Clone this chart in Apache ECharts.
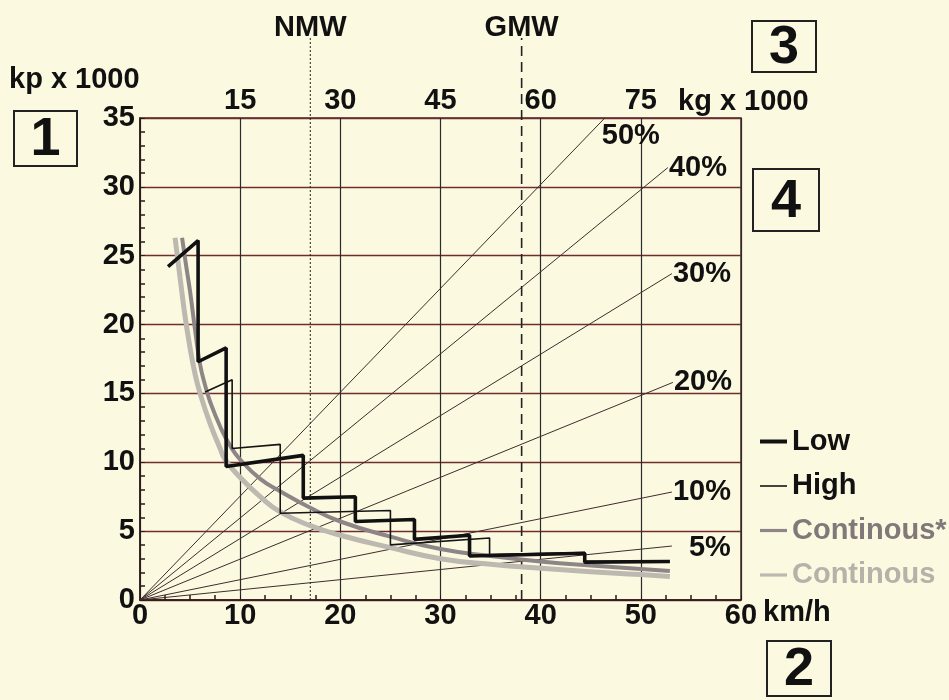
<!DOCTYPE html>
<html><head><meta charset="utf-8">
<script src="https://cdn.jsdelivr.net/npm/echarts@6/dist/echarts.min.js"></script>
<style>html,body{margin:0;padding:0;background:#fcf9e1}#c{width:949px;height:700px}</style>
</head><body><div id="c"></div><script>
// ---- data ----
const speedTicks = [0, 10, 20, 30, 40, 50, 60];          // km/h
const massTicks = [15, 30, 45, 60, 75];                   // kg x 1000 (top axis)
const forceTicks = [0, 5, 10, 15, 20, 25, 30, 35];        // kp x 1000
const ratioNames = ['5%', '10%', '20%', '30%', '40%', '50%'];
const ratioEnds = [[53.1, 3.92], [53.1, 7.84], [53.2, 15.8], [53.1, 23.7], [52.7, 31.4], [46.4, 35]];
const lowSteps = [[2.8, 24.2], [5.8, 26.1], [5.8, 17.3], [8.6, 18.3], [8.6, 9.7], [16.3, 10.5], [16.3, 7.4],
  [21.5, 7.5], [21.5, 5.7], [27.4, 5.85], [27.4, 4.4], [32.9, 4.7], [32.9, 3.2], [44.4, 3.4], [44.4, 2.75], [52.9, 2.8]];
const highSteps = [[6.5, 15.1], [9.2, 16.0], [9.2, 11.0], [14.0, 11.3], [14.0, 6.3], [25.0, 6.5], [25.0, 4.0],
  [34.9, 4.5], [34.9, 3.3], [44.4, 3.45], [44.4, 2.8], [52.9, 2.8]];
const contStar = [[4.2, 26.3], [4.6, 24.3], [5, 22.4], [5.5, 19.6], [6, 17.1], [6.5, 15.6], [7, 14.4], [8, 12.6],
  [9, 11.2], [10, 10.2], [12, 8.8], [14, 7.9], [17, 6.7], [20, 5.7], [25, 4.6], [30, 3.7], [35, 3.2], [40, 2.8],
  [45, 2.5], [50, 2.25], [52.9, 2.1]];
const cont = [[3.5, 26.3], [4, 23.4], [4.5, 20.6], [5, 18.3], [5.5, 16.4], [6, 15.0], [7, 12.8], [8, 11.0],
  [8.5, 10.2], [10, 8.9], [12, 7.5], [14, 6.4], [17, 5.4], [20, 4.7], [25, 3.8], [30, 3.0], [35, 2.6], [40, 2.3],
  [45, 2.05], [50, 1.85], [52.9, 1.7]];
const refLines = [{ name: 'NMW', speed: 17.0 }, { name: 'GMW', speed: 38.1 }];
const refTop = 40.8;

const FONT = '"Liberation Sans", Arial, sans-serif';
const FS = 29;
const TXT = { fontFamily: FONT, fontWeight: 'bold', fontSize: FS, color: '#111' };

const chart = echarts.init(document.getElementById('c'), null, { renderer: 'canvas' });

const ratioSeries = ratioNames.map((nm, i) => ({
  type: 'line', name: 'ratio ' + nm, xAxisIndex: 0, yAxisIndex: 0, symbol: 'none', silent: true,
  data: [[0, 0], ratioEnds[i]],
  lineStyle: { color: '#3e2c2c', width: 1 },
  endLabel: {
    show: true, formatter: nm, ...TXT, distance: 1,
    offset: i === 5 ? [-4, 18] : (i === 0 ? [16, 2] : [0, 0])
  },
  z: 2
}));

const refSeries = refLines.map((r, i) => ({
  type: 'line', name: r.name, xAxisIndex: 2, yAxisIndex: 1, symbol: 'none', silent: true,
  data: [[r.speed, 0], { value: [r.speed, refTop], symbol: 'circle', symbolSize: 0.1, label: { show: true, position: 'top', distance: 1, offset: [0, 6], formatter: r.name, ...TXT } }],
  lineStyle: { color: '#222', width: i === 0 ? 1 : 1.6, type: i === 0 ? [2, 2] : [10, 6] },
  z: 3
}));

const option = {
  backgroundColor: '#fcf9e1',
  animation: false,
  grid: [
    { left: 140, right: 208, top: 118, bottom: 100, show: true, borderColor: '#4a2424', borderWidth: 1.5, backgroundColor: 'transparent' },
    { left: 140, right: 208, top: 38, bottom: 100 }
  ],
  xAxis: [
    {
      type: 'value', gridIndex: 0, position: 'bottom', min: 0, max: 60, interval: 10,
      name: 'km/h', nameLocation: 'end', nameGap: 16,
      nameTextStyle: { ...TXT, verticalAlign: 'top', padding: [-2, 0, 0, 0] },
      axisLine: { lineStyle: { color: '#2a1a1a', width: 1.5 } },
      axisTick: { show: true, inside: true, length: 5, lineStyle: { color: '#2a1a1a' } },
      minorTick: { show: true, splitNumber: 4, length: 5, lineStyle: { color: '#2a1a1a', width: 1.5 } },
      splitLine: { show: true, lineStyle: { color: '#2b2b2b', width: 1.2 } },
      axisLabel: { ...TXT, margin: 1, formatter: v => speedTicks.includes(v) ? String(v) : '' }
    },
    {
      type: 'value', gridIndex: 0, position: 'top', min: 0, max: 90, interval: 15,
      axisLine: { show: false }, axisTick: { show: false }, splitLine: { show: false },
      axisLabel: { ...TXT, margin: 3, formatter: v => massTicks.includes(v) ? String(v) : '' }
    },
    { type: 'value', gridIndex: 1, min: 0, max: 60, show: false }
  ],
  yAxis: [
    {
      type: 'value', gridIndex: 0, min: 0, max: 35, interval: 5,
      axisLine: { show: true, lineStyle: { color: '#2a1a1a', width: 1.5 } },
      axisTick: { show: true, inside: true, length: 5, lineStyle: { color: '#2a1a1a' } },
      minorTick: { show: true, splitNumber: 5, length: 5, lineStyle: { color: '#2a1a1a', width: 1.5 } },
      splitLine: { show: true, lineStyle: { color: '#6e2e2e', width: 1.3 } },
      axisLabel: { ...TXT, margin: 5, formatter: v => forceTicks.includes(v) ? String(v) : '' }
    },
    { type: 'value', gridIndex: 1, min: 0, max: refTop, show: false }
  ],
  legend: {
    orient: 'vertical', left: 755, top: 422, itemGap: 15.5, itemWidth: 27, itemHeight: 14,
    symbolKeepAspect: true,
    textStyle: { ...TXT },
    data: [
      { name: 'Low', icon: 'path://M0,0H27V4H0Z' },
      { name: 'High', icon: 'path://M0,0H27V1.6H0Z' },
      { name: 'Continous*', icon: 'path://M0,0H27V3.2H0Z', textStyle: { color: '#807879' } },
      { name: 'Continous', icon: 'path://M0,0H27V3.2H0Z', textStyle: { color: '#b6b1a9' } }
    ]
  },
  series: [
    ...ratioSeries,
    { type: 'line', name: 'Continous', data: cont, smooth: true, symbol: 'none', lineStyle: { color: '#bdb8b0', width: 5 }, itemStyle: { color: '#bdb8b0' }, z: 4 },
    { type: 'line', name: 'Continous*', data: contStar, smooth: true, symbol: 'none', lineStyle: { color: '#8e8587', width: 4 }, itemStyle: { color: '#8e8587' }, z: 5 },
    { type: 'line', name: 'High', data: highSteps, symbol: 'none', lineStyle: { color: '#151515', width: 1.6 }, itemStyle: { color: '#151515' }, z: 6 },
    { type: 'line', name: 'Low', data: lowSteps, symbol: 'none', lineStyle: { color: '#111', width: 3.6 }, itemStyle: { color: '#111' }, z: 7 },
    ...refSeries
  ],
  graphic: [
    { type: 'text', left: 9, top: 65, style: { text: 'kp x 1000', font: 'bold 29px ' + FONT, fill: '#111' } },
    { type: 'text', left: 678, top: 87, style: { text: 'kg x 1000', font: 'bold 29px ' + FONT, fill: '#111' } },
    ...[['1', 13, 110, 63, 55], ['3', 751, 20, 64, 51], ['4', 752, 168, 66, 62], ['2', 766, 640, 64, 55]].map(b => ({
      type: 'group', left: b[1], top: b[2],
      children: [
        { type: 'rect', shape: { x: 0, y: 0, width: b[3], height: b[4] }, style: { fill: 'rgba(0,0,0,0)', stroke: '#222', lineWidth: 2 } },
        { type: 'text', x: b[3] / 2, y: b[4] / 2 + 2, style: { text: b[0], font: 'bold 54px ' + FONT, fill: '#111', align: 'center', verticalAlign: 'middle' } }
      ]
    }))
  ]
};
chart.setOption(option);
</script></body></html>
